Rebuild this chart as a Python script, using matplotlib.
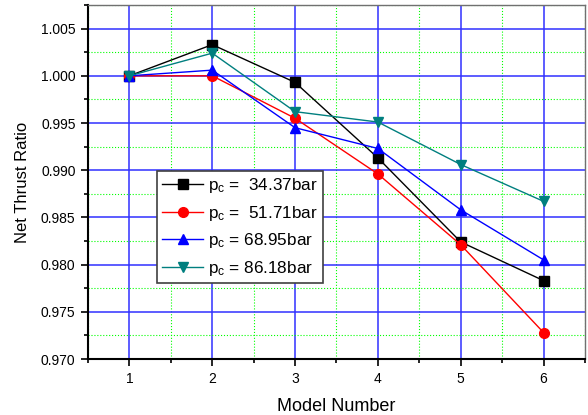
import numpy as np
import matplotlib
matplotlib.use("Agg")
import matplotlib.pyplot as plt
from matplotlib.ticker import MultipleLocator, FormatStrFormatter

plt.rcParams["font.family"] = ["Liberation Sans", "DejaVu Sans"]
plt.rcParams["mathtext.fontset"] = "custom"
plt.rcParams["mathtext.rm"] = "Liberation Sans"
plt.rcParams["mathtext.it"] = "Liberation Sans"

model = [1, 2, 3, 4, 5, 6]
ratio_3437 = [1.0000, 1.0033, 0.9993, 0.9913, 0.9824, 0.9783]
ratio_5171 = [1.0000, 1.0000, 0.9955, 0.9896, 0.9821, 0.9728]
ratio_6895 = [1.0000, 1.0006, 0.9945, 0.9923, 0.9858, 0.9805]
ratio_8618 = [1.0000, 1.0024, 0.9962, 0.9951, 0.9906, 0.9867]
labels = [r"p$_\mathrm{c}$ =  34.37bar", r"p$_\mathrm{c}$ =  51.71bar",
          r"p$_\mathrm{c}$ = 68.95bar", r"p$_\mathrm{c}$ = 86.18bar"]

fig = plt.figure(figsize=(5.88, 4.15), dpi=100)
ax = fig.add_axes([88 / 588, 56 / 415, 497 / 588, 354 / 415])

series = [ratio_3437, ratio_5171, ratio_6895, ratio_8618]
colors = ["black", "red", "blue", "#007F7F"]
markers = ["s", "o", "^", "v"]
for y, c, m, lab in zip(series, colors, markers, labels):
    ax.plot(model, y, color=c, marker=m, markersize=7, linewidth=1, label=lab, zorder=3)

ax.set_xlim(0.5, 6.5)
ax.set_ylim(0.970, 1.0075)
ax.xaxis.set_major_locator(MultipleLocator(1))
ax.xaxis.set_minor_locator(MultipleLocator(0.5))
ax.yaxis.set_major_locator(MultipleLocator(0.005))
ax.yaxis.set_minor_locator(MultipleLocator(0.0025))
ax.yaxis.set_major_formatter(FormatStrFormatter("%.3f"))

ax.grid(True, which="major", color="#3030ff", linewidth=1.1, zorder=0)
ax.grid(True, which="minor", color="#00ff00", linewidth=0.8, linestyle=":", zorder=0)
ax.set_axisbelow(True)

ax.tick_params(axis="both", which="major", labelsize=10, direction="out", length=5, width=1.2,
               top=False, right=False, pad=4)
ax.tick_params(axis="both", which="minor", direction="out", length=3, width=1.2,
               top=False, right=False)
for s in ["left", "bottom"]:
    ax.spines[s].set_linewidth(1.5)
for s in ["top", "right"]:
    ax.spines[s].set_color("#707070")
    ax.spines[s].set_linewidth(1.0)

ax.set_xlabel("Model Number", fontsize=13, labelpad=9)
ax.set_ylabel("Net Thrust Ratio", fontsize=12, labelpad=8)

leg = ax.legend(loc="lower left", bbox_to_anchor=(0.139, 0.215), fontsize=12.3,
                frameon=True, fancybox=False, edgecolor="#404040", framealpha=1,
                handlelength=2.4, borderaxespad=0, labelspacing=0.5,
                handletextpad=0.3, borderpad=0.3)
leg.get_frame().set_linewidth(1.2)

fig.savefig("out.png", dpi=100)
